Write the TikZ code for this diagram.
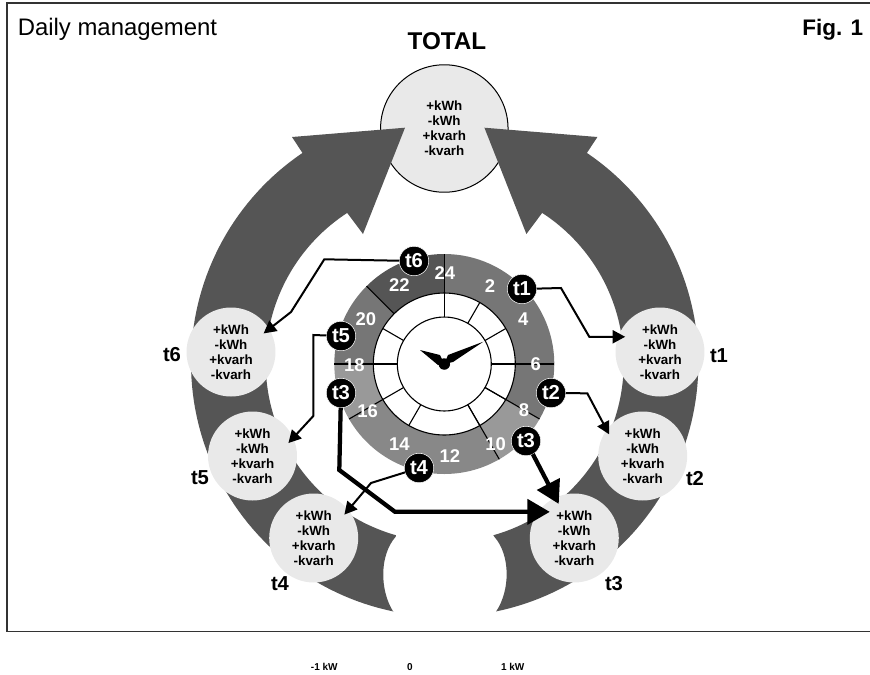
\documentclass[tikz,border=0pt]{standalone}
\usepackage{fontspec}
\setmainfont{Liberation Sans}
\usetikzlibrary{arrows.meta,calc}
\definecolor{bigarc}{HTML}{555555}
\definecolor{meterfill}{HTML}{E9E9E9}
\definecolor{seca}{HTML}{767676}
\definecolor{secb}{HTML}{999999}
\definecolor{secc}{HTML}{888888}
\newcommand{\ringsector}[3]{\fill[#3] plot[variable=\t,domain=#1:#2,samples=40]({444.3+110*cos(\t)},{364+110*sin(\t)}) -- plot[variable=\t,domain=#2:#1,samples=40]({444.3+71*cos(\t)},{364+71*sin(\t)}) -- cycle;}
\tikzset{
  x=0.02cm,y=-0.02cm,
  meter/.style={circle,fill=meterfill,minimum size=1.78cm,inner sep=0pt,outer sep=0pt,align=center,font=\fontsize{7.6}{8.55}\selectfont\bfseries},
  badge/.style={circle,fill=black,draw=white,line width=0.3pt,minimum size=0.59cm,inner sep=0pt,outer sep=0pt,text=white,font=\fontsize{11.5}{11.5}\selectfont\bfseries},
  hournum/.style={text=white,inner sep=0pt,font=\fontsize{10.5}{10.5}\selectfont\bfseries},
  meterlabel/.style={inner sep=0pt,font=\fontsize{11.5}{11.5}\selectfont\bfseries},
  scalelabel/.style={inner sep=0pt,font=\fontsize{5.7}{6}\selectfont\bfseries},
  conn/.style={draw=black,line width=0.04cm,line join=miter,-{Triangle[length=0.25cm,width=0.26cm]}},
  thickconn/.style={draw=black,line width=0.085cm,line join=miter,-{Triangle[length=0.45cm,width=0.5cm]}},
  clockline/.style={draw=black,line width=0.022cm},
}
\begin{document}
\begin{tikzpicture}
\useasboundingbox (0,0) rectangle (870,674);
\draw[draw=black!80,line width=0.026cm] (870,3) -- (7,3) -- (7,631.5) -- (870,631.5);
\node[anchor=base west,inner sep=0pt,font=\fontsize{13.6}{13.6}\selectfont] (title) at (17.5,35) {Daily management};
\node[anchor=base west,inner sep=0pt,font=\fontsize{12.8}{12.8}\selectfont\bfseries] (fig) at (802,35) {Fig. 1};
\node[inner sep=0pt,font=\fontsize{13.8}{13.8}\selectfont\bfseries] (totlabel) at (447,41) {TOTAL};
% total circle
\node[meter,draw=black,line width=0.02cm,minimum size=2.55cm] (total) at (444.3,128.5) {+kWh\\-kWh\\+kvarh\\-kvarh};
% big arrows
\fill[bigarc] (393.3,611.7) -- plot[variable=\t,domain=101.7:235.9,samples=80]({444.7+253.7*cos(\t)},{363+253.7*sin(\t)}) -- (292,137) -- (405,127.7) -- (363,234) -- plot[variable=\t,domain=237:105.8,samples=80]({444.7+179*cos(\t)},{363+179*sin(\t)}) -- (395.7,536.7) .. controls (379.5,555) and (379.5,590) .. (393.3,611.7) -- cycle;
\fill[bigarc] (496,611.7) -- plot[variable=\t,domain=78.3:-55.9,samples=80]({444.7+253.7*cos(\t)},{363+253.7*sin(\t)}) -- (597.4,137) -- (484.4,127.7) -- (526.4,234) -- plot[variable=\t,domain=-57:74.2,samples=80]({444.7+179*cos(\t)},{363+179*sin(\t)}) -- (494.3,536.7) .. controls (510.5,555) and (510.5,590) .. (496,611.7) -- cycle;
% meters
\node[meter] (m1) at (660,352) {+kWh\\-kWh\\+kvarh\\-kvarh};
\node[meter] (m2) at (642.7,456) {+kWh\\-kWh\\+kvarh\\-kvarh};
\node[meter] (m3) at (574.3,538) {+kWh\\-kWh\\+kvarh\\-kvarh};
\node[meter] (m4) at (313.7,538) {+kWh\\-kWh\\+kvarh\\-kvarh};
\node[meter] (m5) at (252.5,456) {+kWh\\-kWh\\+kvarh\\-kvarh};
\node[meter] (m6) at (231,352) {+kWh\\-kWh\\+kvarh\\-kvarh};
\node[meterlabel] (l1) at (719,356) {t1};
\node[meterlabel] (l2) at (695,479) {t2};
\node[meterlabel] (l3) at (614,584) {t3};
\node[meterlabel] (l4) at (280,584) {t4};
\node[meterlabel] (l5) at (200,478) {t5};
\node[meterlabel] (l6) at (172,355) {t6};
% clock ring
\ringsector{-90}{30}{seca}
\ringsector{30}{60}{secb}
\ringsector{60}{150}{secc}
\ringsector{150}{180}{secb}
\ringsector{180}{225}{seca}
\ringsector{225}{270}{bigarc}
\filldraw[fill=white,clockline] (444.3,364) circle[radius=1.42cm];
\draw[clockline] (444.3,364) circle[radius=0.94cm];
\foreach \a in {30,60,120,180,210,300,330}
  \draw[clockline] ([shift={(444.3,364)}]\a:47) -- ([shift={(444.3,364)}]\a:71);
\foreach \a in {-90,0,30,60,150,180}
  \draw[clockline] ([shift={(444.3,364)}]\a:47) -- ([shift={(444.3,364)}]\a:110);
\draw[clockline] ([shift={(444.3,364)}]225:71) -- ([shift={(444.3,364)}]225:110);
% hands
\fill[black] (483.3,341.7) -- (448,355) -- (444.3,364) -- (453,362) -- cycle;
\fill[black] (420,350) -- (440,355) -- (444.3,364) -- (438,365) -- cycle;
\fill[black] (444.3,364) circle[radius=0.115cm];
% hour numbers
\node[hournum] (h24) at (445,273.3) {24};
\node[hournum] (h2) at (490,286) {2};
\node[hournum] (h4) at (523.3,319.3) {4};
\node[hournum] (h6) at (535.7,364) {6};
\node[hournum] (h8) at (524,410) {8};
\node[hournum] (h10) at (495.7,444.3) {10};
\node[hournum] (h12) at (450,455.7) {12};
\node[hournum] (h14) at (399.3,444.3) {14};
\node[hournum] (h16) at (367.7,410.7) {16};
\node[hournum] (h18) at (354.3,365) {18};
\node[hournum] (h20) at (366,319.3) {20};
\node[hournum] (h22) at (399.3,285) {22};
% badges
\node[badge] (b1) at (522,289) {t1};
\node[badge] (b2) at (551,393) {t2};
\node[badge] (b3a) at (526,441) {t3};
\node[badge] (b3b) at (341,393) {t3};
\node[badge] (b4) at (419,468) {t4};
\node[badge] (b5) at (341,336) {t5};
\node[badge] (b6) at (414,261) {t6};
% way points
\coordinate (v1a) at (561,288);
\coordinate (v1b) at (589.3,336.8);
\coordinate (v2a) at (587.3,393.3);
\coordinate (v3a) at (339.3,470);
\coordinate (v3b) at (395,511.8);
\coordinate (v4a) at (371,483);
\coordinate (v5a) at (313.3,335);
\coordinate (v5b) at (313.3,416);
\coordinate (v6a) at (324.3,259.3);
\coordinate (v6b) at (291,312);
% connectors
\draw[conn,shorten >=-0.14cm] (b1) -- (v1a) -- (v1b) -- (m1.160);
\draw[conn,shorten >=-0.10cm] (b2) -- (v2a) -- (m2.144);
\draw[thickconn,shorten >=-0.14cm] (b3a) -- (m3.115);
\draw[thickconn,shorten >=-0.23cm] (b3b) -- (v3a) -- (v3b) -- (m3.144);
\draw[conn,shorten >=-0.12cm] (b4) -- (v4a) -- (m4.39);
\draw[conn,shorten >=-0.14cm] (b5) -- (v5a) -- (v5b) -- (m5.24);
\draw[conn,shorten >=-0.14cm] (b6) -- (v6a) -- (v6b) -- (m6.31);
% scale
\node[scalelabel] (s1) at (324.3,667) {-1 kW};
\node[scalelabel] (s2) at (410,667) {0};
\node[scalelabel] (s3) at (512.7,667) {1 kW};
\end{tikzpicture}
\end{document}
